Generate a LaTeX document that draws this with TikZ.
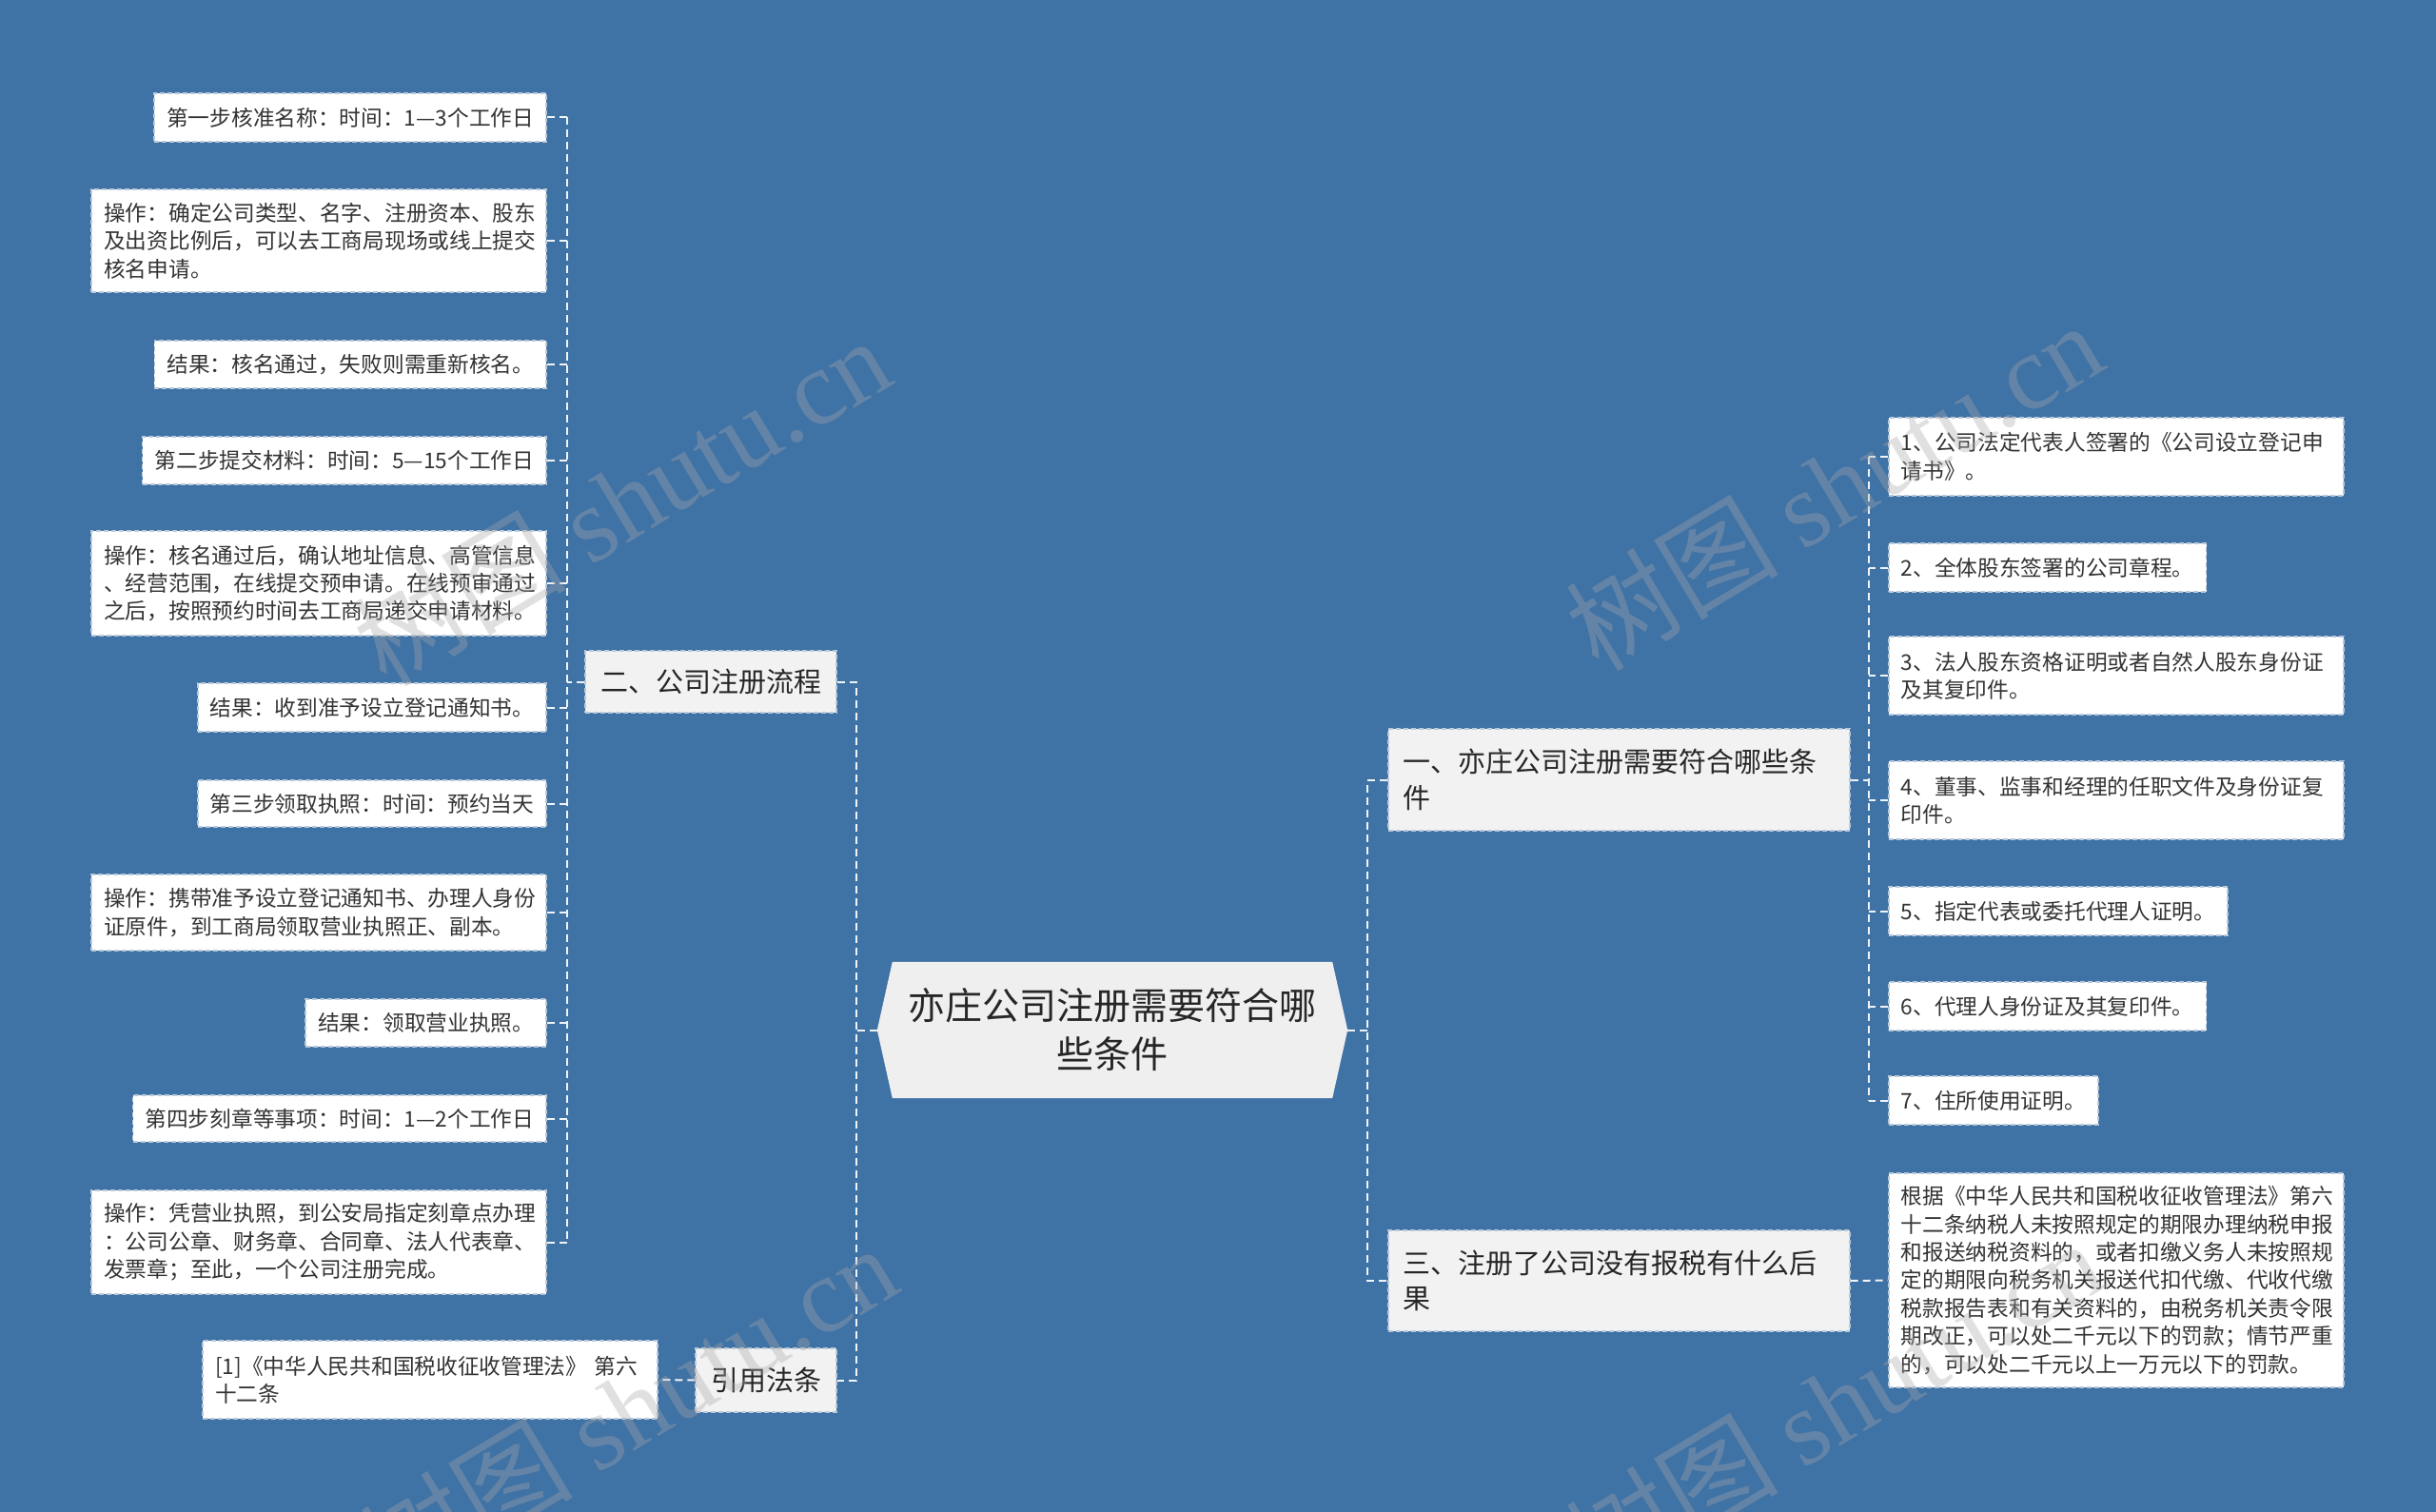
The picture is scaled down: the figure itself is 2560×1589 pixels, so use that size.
\documentclass[tikz,border=0pt]{standalone}
\usepackage{fontspec}
\setmainfont{Noto Sans CJK SC}
\newfontfamily\wmlatin{Liberation Serif}
\usetikzlibrary{backgrounds}
\definecolor{bgblue}{HTML}{3F72A5}
\definecolor{txtdark}{HTML}{333333}
\definecolor{lvlfill}{HTML}{F2F2F2}
\definecolor{rootfill}{HTML}{EFEFEF}
\definecolor{boxedge}{HTML}{B9C9DA}
\definecolor{wmgray}{HTML}{A8A8A8}
\tikzset{
  leaf/.style={draw=boxedge, fill=white, line width=1.6pt, dash pattern=on 5pt off 3pt,
    inner xsep=13pt, inner ysep=0pt, align=left, text=txtdark,
    font=\fontsize{22.7}{29.4}\selectfont},
  wide/.style={text width=452pt},
  lvl/.style={draw=boxedge, fill=lvlfill, line width=1.6pt, dash pattern=on 5pt off 3pt,
    inner xsep=16pt, inner ysep=0pt, align=left, text=black!85,
    font=\fontsize{29}{37.5}\selectfont},
  rootnode/.style={inner sep=0pt, align=center, text=black!85,
    font=\fontsize{39}{51}\selectfont, minimum width=494pt, minimum height=143pt},
  conn/.style={draw=white!92!bgblue, line width=2pt, dash pattern=on 8pt off 5pt},
  wm/.style={text=wmgray, text opacity=0.35, font=\fontsize{112}{112}\selectfont, inner sep=0pt}
}
\begin{document}
\begin{tikzpicture}[x=1pt,y=-1pt]
\useasboundingbox (0,0) rectangle (2560,1589);

% root
\node[rootnode] (root) at (1169,1082.5) {亦庄公司注册需要符合哪\\些条件};
\begin{scope}[on background layer]
\fill[bgblue] (0,0) rectangle (2560,1589);
\fill[rootfill] (root.west) -- ([xshift=16pt]root.north west) -- ([xshift=-16pt]root.north east)
  -- (root.east) -- ([xshift=-16pt]root.south east) -- ([xshift=16pt]root.south west) -- cycle;
\end{scope}

% level 1
\node[lvl, anchor=east, minimum height=65pt] (n2) at (880,716.5) {二、公司注册流程};
\node[lvl, anchor=east, minimum height=67pt] (n4) at (880,1450.5) {引用法条};
\node[lvl, anchor=west, minimum height=107pt, text width=453pt] (n1) at (1458,819.5) {一、亦庄公司注册需要符合哪些条\\件};
\node[lvl, anchor=west, minimum height=106pt, text width=453pt] (n3) at (1458,1346) {三、注册了公司没有报税有什么后\\果};

% left leaves
\node[leaf, anchor=east, minimum height=51pt] (L1) at (575,123.5) {第一步核准名称：时间：1—3个工作日};
\node[leaf, wide, anchor=east, minimum height=108pt] (L2) at (575,253) {操作：确定公司类型、名字、注册资本、股东\\及出资比例后，可以去工商局现场或线上提交\\核名申请。};
\node[leaf, anchor=east, minimum height=50pt] (L3) at (575,383) {结果：核名通过，失败则需重新核名。};
\node[leaf, anchor=east, minimum height=50pt] (L4) at (575,484) {第二步提交材料：时间：5—15个工作日};
\node[leaf, wide, anchor=east, minimum height=110pt] (L5) at (575,613) {操作：核名通过后，确认地址信息、高管信息\\、经营范围，在线提交预申请。在线预审通过\\之后，按照预约时间去工商局递交申请材料。};
\node[leaf, anchor=east, minimum height=51pt] (L6) at (575,743.5) {结果：收到准予设立登记通知书。};
\node[leaf, anchor=east, minimum height=49pt] (L7) at (575,844.5) {第三步领取执照：时间：预约当天};
\node[leaf, wide, anchor=east, minimum height=80pt] (L8) at (575,959) {操作：携带准予设立登记通知书、办理人身份\\证原件，到工商局领取营业执照正、副本。};
\node[leaf, anchor=east, minimum height=50pt] (L9) at (575,1075) {结果：领取营业执照。};
\node[leaf, anchor=east, minimum height=49pt] (L10) at (575,1175.5) {第四步刻章等事项：时间：1—2个工作日};
\node[leaf, wide, anchor=east, minimum height=109pt] (L11) at (575,1305.5) {操作：凭营业执照，到公安局指定刻章点办理\\：公司公章、财务章、合同章、法人代表章、\\发票章；至此，一个公司注册完成。};
\node[leaf, wide, anchor=east, minimum height=82pt] (ref) at (692,1450) {[1]《中华人民共和国税收征收管理法》~第六\\十二条};

% right leaves
\node[leaf, wide, anchor=west, minimum height=82pt] (R1) at (1984,480) {1、公司法定代表人签署的《公司设立登记申\\请书》。};
\node[leaf, anchor=west, minimum height=51pt] (R2) at (1984,596.5) {2、全体股东签署的公司章程。};
\node[leaf, wide, anchor=west, minimum height=82pt] (R3) at (1984,710) {3、法人股东资格证明或者自然人股东身份证\\及其复印件。};
\node[leaf, wide, anchor=west, minimum height=82pt] (R4) at (1984,841) {4、董事、监事和经理的任职文件及身份证复\\印件。};
\node[leaf, anchor=west, minimum height=51pt] (R5) at (1984,957.5) {5、指定代表或委托代理人证明。};
\node[leaf, anchor=west, minimum height=51pt] (R6) at (1984,1057.5) {6、代理人身份证及其复印件。};
\node[leaf, anchor=west, minimum height=51pt] (R7) at (1984,1156.5) {7、住所使用证明。};
\node[leaf, wide, anchor=west, minimum height=225pt] (law) at (1984,1345.5) {根据《中华人民共和国税收征收管理法》第六\\十二条纳税人未按照规定的期限办理纳税申报\\和报送纳税资料的，或者扣缴义务人未按照规\\定的期限向税务机关报送代扣代缴、代收代缴\\税款报告表和有关资料的，由税务机关责令限\\期改正，可以处二千元以下的罚款；情节严重\\的，可以处二千元以上一万元以下的罚款。};

% connector columns
\coordinate (xl) at (596,0);
\coordinate (xm) at (900,0);
\coordinate (xr) at (1437,0);
\coordinate (xrr) at (1964,0);

\begin{scope}[on background layer]
\foreach \n in {L1,L2,L3,L4,L5,L6,L7,L8,L9,L10,L11}
  \draw[conn] (\n.east) -- (\n.east -| xl);
\draw[conn] (L1.east -| xl) -- (L11.east -| xl);
\draw[conn] (n2.west) -- (n2.west -| xl);

\draw[conn] (n2.east) -- (n2.east -| xm) -- (n4.east -| xm) -- (n4.east);
\draw[conn] (root.west) -- (root.west -| xm);
\draw[conn] (n4.west) -- (ref.east);

\draw[conn] (n1.west) -- (n1.west -| xr) -- (n3.west -| xr) -- (n3.west);
\draw[conn] (root.east) -- (root.east -| xr);

\foreach \n in {R1,R2,R3,R4,R5,R6,R7}
  \draw[conn] (\n.west) -- (\n.west -| xrr);
\draw[conn] (R1.west -| xrr) -- (R7.west -| xrr);
\draw[conn] (n1.east) -- (n1.east -| xrr);
\draw[conn] (n3.east) -- (law.west);
\end{scope}

% watermarks
\node[wm, rotate=31] (wm1) at (653,526) {树图 {\wmlatin shutu.cn}};
\node[wm, rotate=31] (wm2) at (1927,510) {树图 {\wmlatin shutu.cn}};
\node[wm, rotate=31] (wm3) at (660,1480) {树图 {\wmlatin shutu.cn}};
\node[wm, rotate=31] (wm4) at (1927,1475) {树图 {\wmlatin shutu.cn}};
\end{tikzpicture}
\end{document}
